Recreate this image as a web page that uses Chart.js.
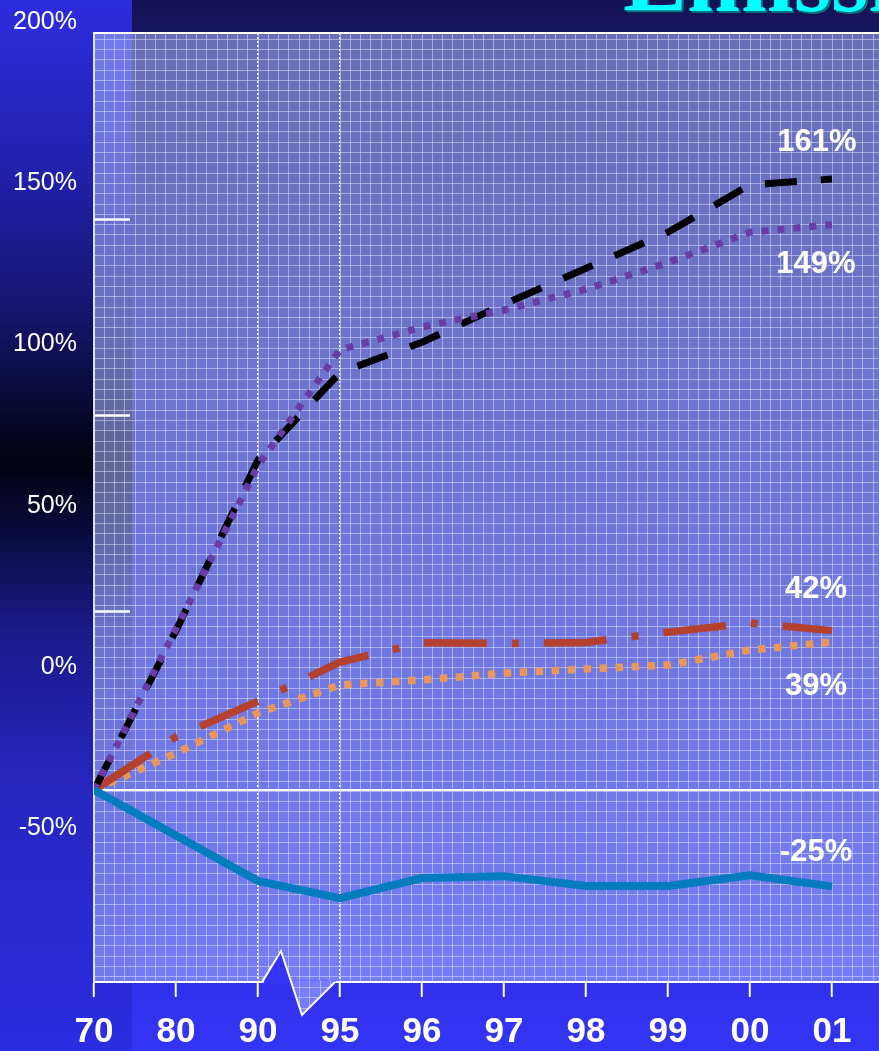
<!DOCTYPE html>
<html><head><meta charset="utf-8">
<script src="https://cdn.jsdelivr.net/npm/chart.js@4.4.1/dist/chart.umd.min.js"></script>
<style>html,body{margin:0;padding:0;background:#161255;overflow:hidden}canvas{display:block}</style>
</head><body>
<canvas id="c" width="879" height="1051"></canvas>
<script>
// ---- data ----
const years = ['70','80','90','95','96','97','98','99','00','01'];
const seriesBlack  = [0, 42, 87, 110, 118, 128, 137.5, 147, 159.5, 161];
const seriesPurple = [0, 42.5, 85.5, 116, 122, 126.5, 132, 139, 147, 149];
const seriesRed    = [0, 14, 23.4, 33.7, 38.8, 38.6, 38.9, 41.6, 44, 42];
const seriesOrange = [0, 9.7, 20.3, 27.7, 29, 30.8, 31.9, 32.9, 36.9, 39];
const seriesBlue   = [0, -12, -24, -28.5, -23.2, -22.7, -25.3, -25.3, -22.5, -25.4];
const endLabels = ['161%', '149%', '42%', '39%', '-25%'];
const titleText = 'Emissions';

// ---- styles ----
const FONT = '"Liberation Sans", Arial, sans-serif';
const endLabelOffsets = [[-15,-37],[-16,40],[-16,-41],[-16,44],[-16,-34]];
const gridColor = 'rgba(225,232,255,0.5)';
const bandColor = '#3434f4';
const overlayColor = 'rgba(172,186,255,0.55)';

const pts = arr => arr.map((v, i) => ({x: i, y: v}));

const bgPlugin = {
  id: 'bg',
  beforeDraw(chart) {
    const {ctx, chartArea: ca, width: W, height: H} = chart;
    ctx.save();
    const g = ctx.createLinearGradient(0, 0, 0, H);
    g.addColorStop(0, '#151256');
    g.addColorStop(ca.top / H, '#18165e');
    g.addColorStop(ca.bottom / H, '#3131ec');
    g.addColorStop(1, bandColor);
    ctx.fillStyle = g;
    ctx.fillRect(0, 0, W, H);
    const gl = ctx.createLinearGradient(0, 0, 0, H);
    gl.addColorStop(0, '#2d2de0');
    gl.addColorStop(0.18, '#1f1fa5');
    gl.addColorStop(0.30, '#15156c');
    gl.addColorStop(0.40, '#07072a');
    gl.addColorStop(0.44, '#020210');
    gl.addColorStop(0.50, '#0a0a3a');
    gl.addColorStop(0.60, '#1a1a8a');
    gl.addColorStop(0.75, '#2626c0');
    gl.addColorStop(1, '#2c2ce2');
    ctx.fillStyle = gl;
    ctx.fillRect(0, 0, 132, H);
    ctx.fillStyle = overlayColor;
    ctx.fillRect(ca.left, ca.top, ca.right - ca.left, ca.bottom - ca.top);
    ctx.restore();
  },
  afterDraw(chart) {
    const {ctx, chartArea: ca} = chart;
    const xs = chart.scales.x, xg = chart.scales.xg, yg = chart.scales.yg;
    const y0 = ca.bottom;
    const ax = xs.getPixelForValue(2) + 5;
    const P = [ax + 18, y0 - 31], V = [ax + 39, y0 + 33], B = [ax + 72, y0];
    ctx.save();
    ctx.fillStyle = bandColor;
    ctx.beginPath();
    ctx.moveTo(ax, y0 + 1.5); ctx.lineTo(P[0], P[1]); ctx.lineTo(P[0] + (V[0]-P[0]) * (32.5/64), y0 + 1.5);
    ctx.closePath(); ctx.fill();
    const cx = P[0] + (V[0]-P[0]) * (29.5/64);
    ctx.beginPath();
    ctx.moveTo(cx, y0 - 1.5); ctx.lineTo(V[0], V[1]); ctx.lineTo(B[0] + 1.5, y0 - 1.5);
    ctx.closePath();
    ctx.fillStyle = bandColor; ctx.fill();
    ctx.fillStyle = overlayColor; ctx.fill();
    ctx.clip();
    ctx.strokeStyle = gridColor; ctx.lineWidth = 1;
    ctx.beginPath();
    xg.ticks.forEach(t => { const x = Math.round(xg.getPixelForValue(t.value)) + 0.5; ctx.moveTo(x, y0 - 2); ctx.lineTo(x, y0 + 40); });
    for (let k = -1; k >= -5; k--) { const y = Math.round(yg.getPixelForValue(k)) + 0.5; ctx.moveTo(cx - 5, y); ctx.lineTo(B[0] + 5, y); }
    ctx.stroke();
    ctx.restore();
    ctx.save();
    ctx.strokeStyle = '#fff'; ctx.lineWidth = 2;
    ctx.beginPath();
    ctx.moveTo(ax - 1, y0); ctx.lineTo(P[0], P[1]); ctx.lineTo(V[0], V[1]); ctx.lineTo(B[0], B[1]);
    ctx.stroke();
    ctx.font = 'bold 96px "Liberation Serif", "Times New Roman", serif';
    ctx.textAlign = 'left'; ctx.textBaseline = 'alphabetic';
    ctx.shadowColor = '#0b6f80'; ctx.shadowOffsetX = 2; ctx.shadowOffsetY = 2; ctx.shadowBlur = 0;
    ctx.fillStyle = '#00ffff';
    ctx.fillText(titleText, 623, 11);
    ctx.restore();
  },
  afterDatasetsDraw(chart) {
    const {ctx} = chart;
    ctx.save();
    ctx.font = 'bold 31px ' + FONT;
    ctx.fillStyle = '#ffffff';
    ctx.textAlign = 'center'; ctx.textBaseline = 'middle';
    chart.data.datasets.forEach((ds, i) => {
      const meta = chart.getDatasetMeta(i);
      const p = meta.data[meta.data.length - 1];
      const o = endLabelOffsets[i];
      ctx.fillText(endLabels[i], p.x + o[0], p.y + o[1]);
    });
    ctx.restore();
  }
};

const isBreakTick = c => c.tick && (c.tick.value === 2 || c.tick.value === 3);
const ax = {xAxisID: 'x', yAxisID: 'y'};

new Chart(document.getElementById('c'), {
  type: 'line',
  data: {
    datasets: [
      {...ax, data: pts(seriesBlack), borderColor: '#000000', borderWidth: 7, borderDash: [32, 24], borderDashOffset: 53, order: 2},
      {...ax, data: pts(seriesPurple), borderColor: '#6a3da6', borderWidth: 7, borderDash: [7, 9], order: 1},
      {...ax, data: pts(seriesRed), borderColor: '#b4412d', borderWidth: 7.5, borderDash: [63, 25, 7, 25], borderDashOffset: 115.9, order: 3},
      {...ax, data: pts(seriesOrange), borderColor: '#e8965a', borderWidth: 7.5, borderDash: [7.5, 8.5], order: 4},
      {...ax, data: pts(seriesBlue), borderColor: '#047cbe', borderWidth: 8, order: 0}
    ]
  },
  options: {
    responsive: false,
    animation: false,
    events: [],
    devicePixelRatio: 1,
    layout: {padding: {top: 33, left: 0, right: 0, bottom: 0}},
    elements: {point: {radius: 0}, line: {tension: 0, fill: false}},
    plugins: {legend: {display: false}, tooltip: {enabled: false}, title: {display: false}},
    scales: {
      x: {
        type: 'linear', position: 'bottom', min: 0, max: 9.573,
        afterFit: s => { s.height = 69; },
        ticks: {stepSize: 1, includeBounds: false, autoSkip: false, maxRotation: 0, padding: 14,
          color: '#ffffff', font: {family: FONT, size: 35, weight: 'bold'},
          callback: v => (years[v] !== undefined ? years[v] : '')},
        grid: {color: c => isBreakTick(c) ? 'rgba(255,255,255,0.95)' : 'rgba(0,0,0,0)', lineWidth: 1.5,
          drawTicks: true, tickLength: 15, tickColor: '#ffffff', tickWidth: 2},
        border: {display: true, color: '#ffffff', width: 2, dash: c => isBreakTick(c) ? [2, 2] : []}
      },
      y: {
        type: 'linear', position: 'left', weight: 0, min: -50.6, max: 199.5,
        afterFit: s => { s.width = 0; },
        afterBuildTicks: s => { s.ticks = [{value: 0}]; },
        ticks: {display: false},
        grid: {drawTicks: false, color: '#ffffff', lineWidth: 2},
        border: {display: false}
      },
      xg: {
        type: 'linear', position: 'top', min: 0, max: 9.573,
        afterFit: s => { s.height = 0; },
        ticks: {display: false, stepSize: 0.125, includeBounds: false, autoSkip: false},
        grid: {drawTicks: false, color: gridColor, lineWidth: 1},
        border: {display: true, color: '#ffffff', width: 2}
      },
      yl: {
        type: 'linear', position: 'left', weight: 10, min: -94.2, max: 200,
        afterFit: s => { s.width = 94; },
        ticks: {stepSize: 50, includeBounds: false, padding: 17, labelOffset: -11, autoSkip: false,
          color: '#ffffff', font: {family: FONT, size: 25}, callback: v => v + '%'},
        grid: {display: false, drawTicks: false},
        border: {display: true, color: 'rgba(235,240,255,0.9)', width: 2}
      },
      yt: {
        type: 'linear', position: 'left', weight: 1, min: -44.64, max: 197.45,
        afterFit: s => { s.width = 0; },
        ticks: {display: false, stepSize: 50, includeBounds: false},
        grid: {drawOnChartArea: false, drawTicks: true, tickLength: -36, tickWidth: 2.5,
          tickColor: c => (c.tick && c.tick.value > 0) ? '#ffffff' : 'rgba(0,0,0,0)'},
        border: {display: false}
      },
      yg: {
        type: 'linear', position: 'left', weight: 0, min: -0.5, max: 91.6,
        afterFit: s => { s.width = 0; },
        ticks: {display: false, stepSize: 1, includeBounds: false},
        grid: {drawTicks: false, color: gridColor, lineWidth: 1},
        border: {display: false}
      }
    }
  },
  plugins: [bgPlugin]
});
</script>
</body></html>
